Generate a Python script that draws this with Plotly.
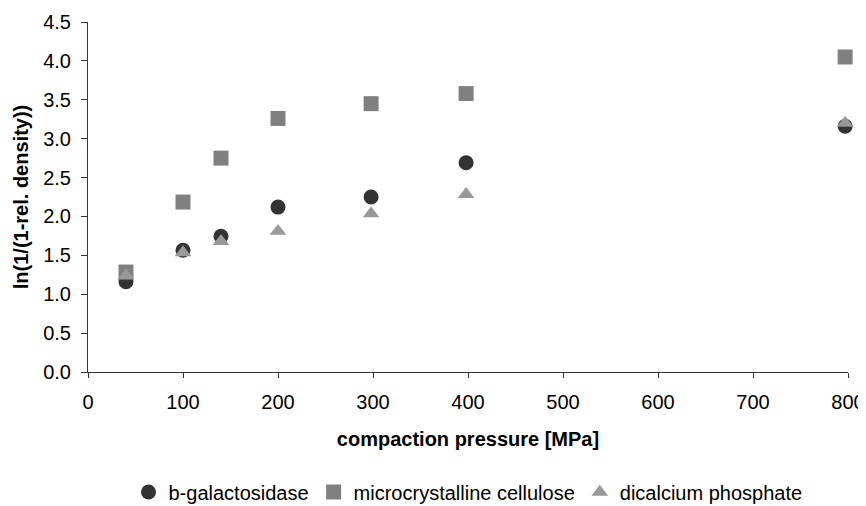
import plotly.graph_objects as go

pressure = [40, 100, 140, 200, 298, 398, 797]
b_galactosidase = [1.16, 1.565, 1.745, 2.12, 2.25, 2.69, 3.16]
mcc = [1.285, 2.185, 2.75, 3.26, 3.45, 3.58, 4.05]
dicalcium = [1.24, 1.535, 1.68, 1.81, 2.035, 2.285, 3.2]

series = [
    ("b-galactosidase", b_galactosidase, "circle", "#333333", 15),
    ("microcrystalline cellulose", mcc, "square", "#808080", 15),
    ("dicalcium phosphate", dicalcium, "triangle-up", "#999999", 14.5),
]

fig = go.Figure()
for name, vals, sym, col, sz in series:
    fig.add_trace(go.Scatter(
        x=pressure, y=vals, mode="markers", name=name,
        marker=dict(symbol=sym, color=col, size=sz, line=dict(width=0)),
        cliponaxis=False,
    ))

font = "Liberation Sans, Arial, sans-serif"
# page body adds an 8px offset; figure sized to fit the 866x506 window
fig.update_layout(
    width=858, height=498,
    margin=dict(l=80, r=18, t=14, b=134, autoexpand=False),
    paper_bgcolor="white", plot_bgcolor="white",
    font=dict(family=font, size=20, color="black"),
    showlegend=True,
    legend=dict(orientation="h", x=0.5, xanchor="center", y=-0.343, yanchor="middle",
                font=dict(size=20, family=font), itemwidth=30, tracegroupgap=0,
                bgcolor="rgba(0,0,0,0)"),
    xaxis=dict(
        range=[0, 800], tickvals=[0, 100, 200, 300, 400, 500, 600, 700, 800],
        ticks="outside", ticklen=5, tickcolor="#333", showline=True, linecolor="#333",
        linewidth=1, showgrid=False, zeroline=False, ticklabelstandoff=7,
        title=dict(text="<b>compaction pressure [MPa]</b>", font=dict(size=20), standoff=19),
        tickfont=dict(size=20), automargin=False,
    ),
    yaxis=dict(
        range=[0, 4.5], tickvals=[0, 0.5, 1, 1.5, 2, 2.5, 3, 3.5, 4, 4.5],
        tickformat=".1f",
        ticks="outside", ticklen=6, tickcolor="#333", showline=True, linecolor="#333",
        linewidth=1, showgrid=False, zeroline=False, ticklabelstandoff=6,
        title=dict(text="<b>ln(1/(1-rel. density))</b>", font=dict(size=20), standoff=9),
        tickfont=dict(size=20), automargin=False,
    ),
)

fig.write_html("out.html")
